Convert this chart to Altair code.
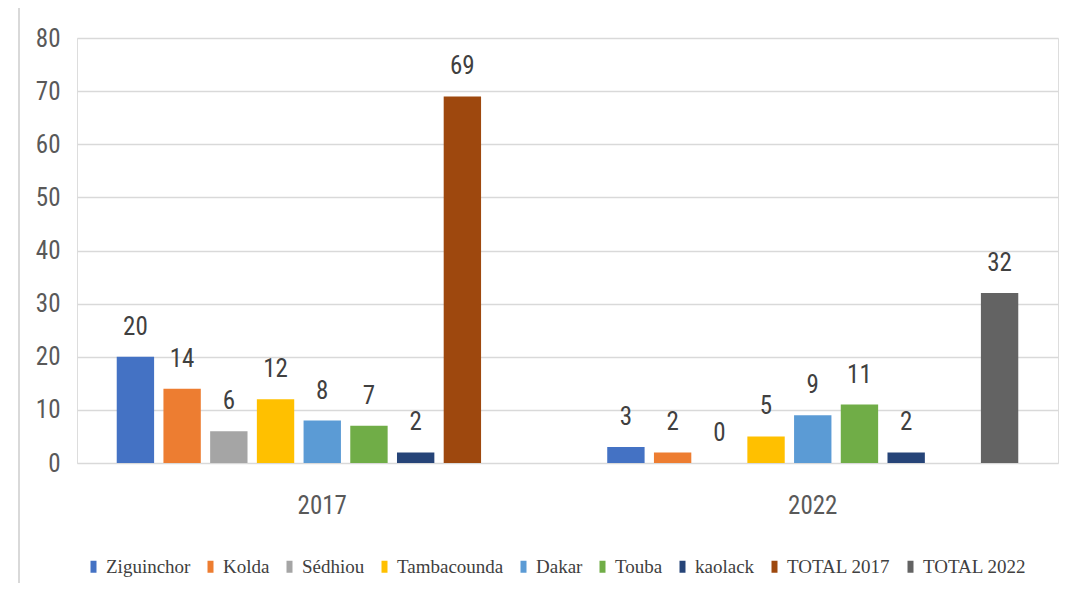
import altair as alt
import pandas as pd

years = ["2017", "2022"]
series = ["Ziguinchor", "Kolda", "Sédhiou", "Tambacounda", "Dakar", "Touba",
          "kaolack", "TOTAL 2017", "TOTAL 2022"]
colors = ["#4472C4", "#ED7D31", "#A5A5A5", "#FFC000", "#5B9BD5", "#70AD47",
          "#264478", "#9E480E", "#636363"]
values_2017 = [20, 14, 6, 12, 8, 7, 2, 69]
values_2022 = [3, 2, 0, 5, 9, 11, 2, 32]
series_2017 = ["Ziguinchor", "Kolda", "Sédhiou", "Tambacounda", "Dakar", "Touba", "kaolack", "TOTAL 2017"]
series_2022 = ["Ziguinchor", "Kolda", "Sédhiou", "Tambacounda", "Dakar", "Touba", "kaolack", "TOTAL 2022"]
y_ticks = [0, 10, 20, 30, 40, 50, 60, 70, 80]

rows = []
for s, v in zip(series_2017, values_2017):
    rows.append({"year": "2017", "series": s, "value": v})
for s, v in zip(series_2022, values_2022):
    rows.append({"year": "2022", "series": s, "value": v})
df = pd.DataFrame(rows)

NARROW = "Liberation Sans Narrow, Roboto Condensed, DejaVu Sans Condensed, Roboto, sans-serif"
SERIF = "Liberation Serif, Times New Roman, serif"

x = alt.X("year:N", sort=years,
          scale=alt.Scale(paddingInner=0.162, paddingOuter=0.081),
          axis=alt.Axis(title=None, labelAngle=0, domain=False, ticks=False,
                        labelFont=NARROW, labelFontSize=25, labelColor="#595959",
                        labelPadding=30))
xo = alt.XOffset("series:N", sort=series,
                 scale=alt.Scale(domain=series, paddingInner=0.2, paddingOuter=0))
y = alt.Y("value:Q",
          scale=alt.Scale(domain=[0, 80]),
          axis=alt.Axis(title=None, values=y_ticks, domain=False, ticks=False,
                        labelFont=NARROW, labelFontSize=25, labelColor="#595959",
                        labelPadding=17, gridColor="#d9d9d9", gridWidth=1.5))

bars = alt.Chart(df).mark_bar().encode(
    x=x, xOffset=xo, y=y,
    color=alt.Color("series:N", sort=series,
                    scale=alt.Scale(domain=series, range=colors),
                    legend=alt.Legend(title=None, orient="none", direction="horizontal",
                                      columns=9, legendX=7, legendY=519,
                                      labelFont=SERIF, labelFontSize=19,
                                      labelColor="#404040", labelLimit=300,
                                      symbolType="M-0.5,-1H0.5V1H-0.5Z", symbolSize=144,
                                      symbolStrokeWidth=0, labelOffset=3,
                                      columnPadding=10)),
)

labels = alt.Chart(df).mark_text(
    dy=-22, baseline="alphabetic", font=NARROW, fontSize=25, color="#404040"
).encode(x=x, xOffset=xo, y=y, text="value:Q")

border = alt.Chart(pd.DataFrame({"a": [0]})).mark_rule(color="#d9d9d9", strokeWidth=2).encode(
    x=alt.value(-58), y=alt.value(-30), y2=alt.value(560)
)

chart = alt.layer(bars, labels, border).properties(
    width=981, height=425,
    autosize=alt.AutoSizeParams(type="none"),
    padding={"left": 69, "top": 30, "right": 8, "bottom": 120},
).configure_view(stroke=None).configure(background="white")

chart.save("out.html", embed_options={"renderer": "svg", "actions": False})
